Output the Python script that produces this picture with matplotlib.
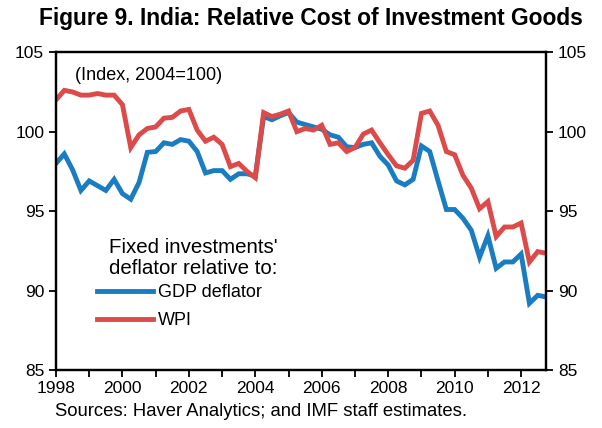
import matplotlib
matplotlib.use("Agg")
import matplotlib.pyplot as plt
import numpy as np

plt.rcParams['font.family'] = ['Liberation Sans', 'DejaVu Sans']

# quarterly data, 1998Q1 - 2012Q4
start_year = 1998
gdp_deflator = [98.0, 98.6, 97.6, 96.3, 96.9, 96.6, 96.3, 97.0,
                96.1, 95.75, 96.8, 98.7, 98.75, 99.3, 99.2, 99.5,
                99.4, 98.75, 97.4, 97.55, 97.55, 97.0, 97.35, 97.35,
                97.2, 100.95, 100.75, 101.0, 101.2, 100.6, 100.45, 100.3,
                100.15, 99.8, 99.65, 99.05, 99.0, 99.2, 99.3, 98.45,
                97.9, 96.9, 96.65, 97.0, 99.1, 98.75, 96.9, 95.1,
                95.1, 94.55, 93.8, 92.1, 93.45, 91.4, 91.8, 91.8,
                92.3, 89.2, 89.7, 89.6]
wpi = [102.0, 102.6, 102.5, 102.3, 102.3, 102.4, 102.3, 102.3,
       101.7, 99.0, 99.8, 100.2, 100.3, 100.85, 100.9, 101.3,
       101.4, 100.1, 99.4, 99.65, 99.2, 97.8, 98.0, 97.5,
       97.1, 101.2, 100.95, 101.1, 101.3, 100.0, 100.2, 100.1,
       100.4, 99.2, 99.3, 98.75, 99.0, 99.85, 100.1, 99.3,
       98.55, 97.85, 97.7, 98.2, 101.15, 101.3, 100.4, 98.75,
       98.55, 97.25, 96.45, 95.15, 95.6, 93.4, 94.0, 94.0,
       94.25, 91.8, 92.45, 92.35]
year_labels = ['1998', '2000', '2002', '2004', '2006', '2008', '2010', '2012']
y_ticks = [85, 90, 95, 100, 105]

x = start_year + np.arange(len(wpi)) / 4.0

W, H = 602, 428
fig = plt.figure(figsize=(6.02, 4.28), dpi=100)
ax = fig.add_axes([0.093, 0.1355, 0.814, 0.7425])

blue = '#1a7dc1'
red = '#dc4b4a'
ax.plot(x, gdp_deflator, color=blue, lw=3.5, solid_joinstyle='miter', label='GDP deflator')
ax.plot(x, wpi, color=red, lw=3.5, solid_joinstyle='miter', label='WPI')

ax.set_xlim(x[0], x[-1])
ax.set_ylim(85, 105)
ax.set_xticks([int(s) for s in year_labels])
ax.set_xticklabels(year_labels)
ax.set_xticks(np.arange(1999, 2013, 2), minor=True)
ax.set_yticks(y_ticks)

for sp in ax.spines.values():
    sp.set_linewidth(1.6)

ax.tick_params(axis='both', which='both', direction='out', length=5, width=1.3,
               labelsize=12.5)
ax.tick_params(axis='x', which='both', top=False, pad=3)
ax.tick_params(axis='y', right=False)

ax2 = ax.twinx()
ax2.set_ylim(85, 105)
ax2.set_yticks(y_ticks)
ax2.tick_params(axis='y', direction='out', length=5, width=1.3, labelsize=12.5)
for sp in ax2.spines.values():
    sp.set_linewidth(1.6)

ax.text(75 / W, 1 - 75 / H, '(Index, 2004=100)', transform=fig.transFigure,
        fontsize=13, ha='left', va='center')

# legend: title drawn as text, entries via legend
fig.text(193 / W, 1 - 258 / H, "Fixed investments'\ndeflator relative to:",
         ha='center', va='center', multialignment='center', fontsize=14.8,
         linespacing=1.12)
ax.legend(loc='upper left', bbox_to_anchor=(97 / W, 1 - 284 / H),
          bbox_transform=fig.transFigure, frameon=False, borderpad=0,
          borderaxespad=0, fontsize=13, handlelength=3.1, handletextpad=0.3,
          labelspacing=0.62)

fig.text(311 / W, 1 - 18 / H, 'Figure 9. India: Relative Cost of Investment Goods',
         ha='center', va='center', fontsize=16.4, fontweight='bold')
fig.text(55 / W, 1 - 411 / H, 'Sources: Haver Analytics; and IMF staff estimates.',
         ha='left', va='center', fontsize=13.3)

fig.savefig('out.png', dpi=100)
